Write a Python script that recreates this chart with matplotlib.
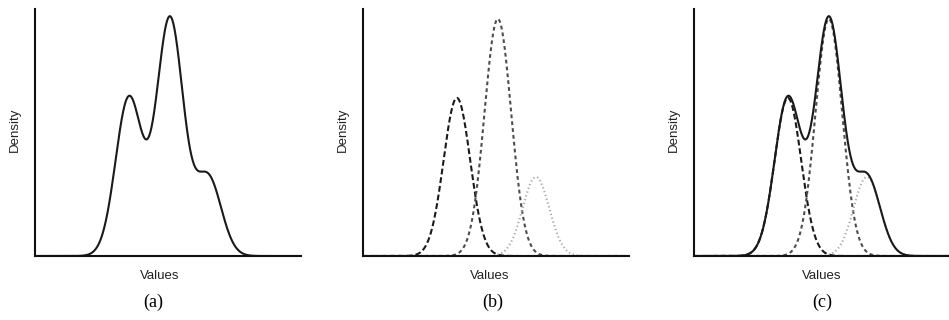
import numpy as np
import matplotlib
matplotlib.use("Agg")
import matplotlib.pyplot as plt

# mixture components: centre, spread, peak height
comp_means = [3.53, 5.07, 6.50]
comp_sds = [0.50, 0.50, 0.50]
comp_peaks = [0.64, 0.96, 0.32]

panel_tags = ["(a)", "(b)", "(c)"]
x_label = "Values"
y_label = "Density"

# styles of the three component curves
comp_colors = ["#1a1a1a", "#4d4d4d", "#a8a8a8"]
comp_dashes = [(2.8, 1.4), (1.8, 1.5), (0.6, 1.3)]

x = np.linspace(0, 10, 800)

def component(i):
    return comp_peaks[i] * np.exp(-0.5 * ((x - comp_means[i]) / comp_sds[i]) ** 2)

total = sum(component(i) for i in range(3))

fig = plt.figure(figsize=(9.49, 3.2), dpi=100)
W, H = 949.0, 320.0

# axes boxes in pixels
lefts = [35, 363, 694]
top_px, base_px = 9, 256
width_px = 266
tag_x = [153, 493, 822]
lab_x = [160, 490, 822]

for k in range(3):
    ax = fig.add_axes([lefts[k] / W, (H - base_px) / H,
                       width_px / W, (base_px - top_px) / H])
    ax.set_xlim(0, 10)
    ax.set_ylim(0, 1)
    for s in ["top", "right"]:
        ax.spines[s].set_visible(False)
    for s in ["left", "bottom"]:
        ax.spines[s].set_linewidth(1.5)
        ax.spines[s].set_color("#111111")
    ax.set_xticks([])
    ax.set_yticks([])
    ax.patch.set_alpha(0)

    if k >= 1:
        for i in range(3):
            ax.plot(x, component(i), color=comp_colors[i], lw=1.5,
                    dashes=comp_dashes[i])
    if k != 1:
        ax.plot(x, total, color="#1a1a1a", lw=1.5)

    # y label, x label and panel tag
    fig.text((lefts[k] - 20) / W, (H - 130) / H, y_label, rotation=90,
             ha="center", va="center", fontsize=9.5, family="Liberation Sans",
             color="#222222")
    fig.text(lab_x[k] / W, (H - 276) / H, x_label, ha="center", va="center",
             fontsize=9.5, family="Liberation Sans", color="#222222")
    fig.text(tag_x[k] / W, (H - 302) / H, panel_tags[k], ha="center", va="center",
             fontsize=13, family="Liberation Serif")

fig.savefig("out.png", dpi=100)
